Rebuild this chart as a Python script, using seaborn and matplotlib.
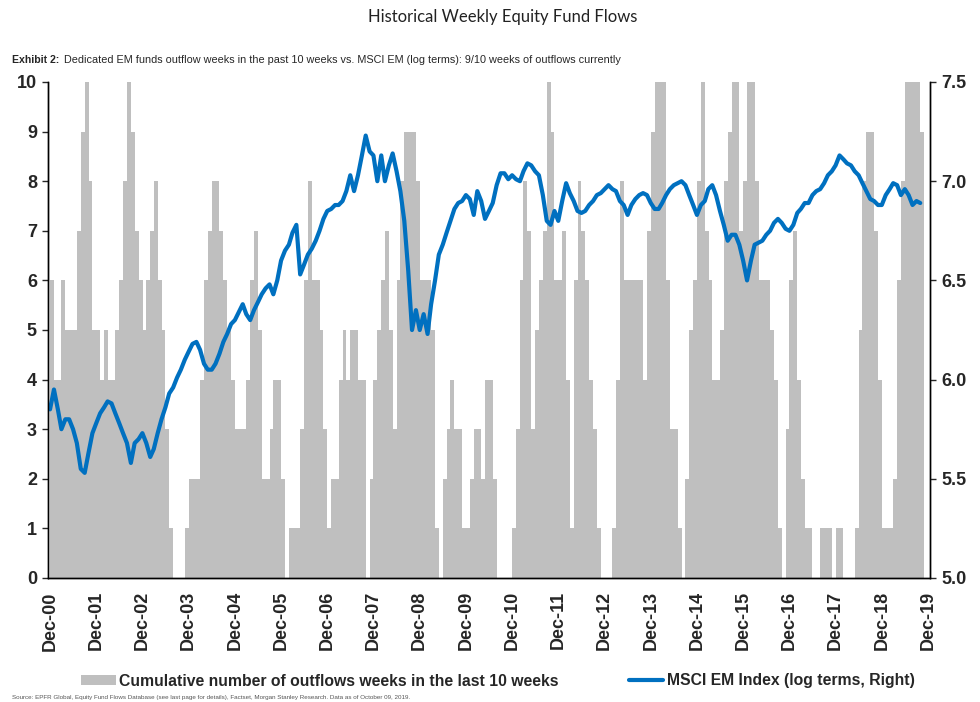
import pandas as pd
import seaborn as sns
import matplotlib.pyplot as plt
import matplotlib.dates as mdates
from matplotlib.patches import Patch
from matplotlib.lines import Line2D

first_month = "2000-12-01"

# cumulative number of outflow weeks in the last 10 weeks (read monthly, Dec-00 .. Oct-19)
outflow_weeks = [
    6, 4, 4, 6, 5, 5, 5, 7, 9, 10, 8, 5,
    5, 4, 5, 4, 4, 5, 6, 8, 10, 9, 7, 6,
    5, 6, 7, 8, 6, 5, 3, 1, 0, 0, 0, 1,
    2, 2, 2, 4, 6, 7, 8, 8, 7, 6, 5, 4,
    3, 3, 3, 4, 6, 7, 5, 2, 2, 3, 4, 4,
    2, 0, 1, 1, 1, 3, 6, 8, 6, 6, 5, 3,
    1, 2, 2, 4, 5, 4, 5, 5, 4, 4, 0, 2,
    4, 5, 6, 7, 5, 3, 6, 8, 9, 9, 9, 8,
    6, 6, 6, 5, 1, 0, 2, 3, 4, 3, 3, 1,
    1, 2, 3, 3, 2, 4, 4, 2, 0, 0, 0, 0,
    1, 3, 6, 8, 7, 3, 5, 6, 7, 10, 9, 6,
    6, 7, 4, 1, 6, 8, 7, 6, 4, 3, 1, 0,
    0, 0, 1, 4, 8, 6, 6, 6, 6, 6, 4, 7,
    9, 10, 10, 10, 6, 3, 3, 1, 0, 2, 5, 6,
    8, 10, 7, 6, 4, 4, 5, 8, 9, 10, 10, 7,
    8, 10, 10, 8, 6, 6, 6, 5, 4, 1, 0, 3,
    6, 7, 4, 2, 1, 1, 0, 0, 1, 1, 1, 0,
    1, 1, 0, 0, 0, 1, 5, 8, 9, 9, 7, 4,
    1, 1, 1, 2, 6, 8, 10, 10, 10, 10, 9,
]

# MSCI EM index, log terms (right axis)
msci_em_log = [
    5.85, 5.95, 5.85, 5.75, 5.80, 5.80, 5.75, 5.68, 5.55, 5.53, 5.63, 5.73,
    5.78, 5.83, 5.86, 5.89, 5.88, 5.83, 5.78, 5.73, 5.68, 5.58, 5.68, 5.70,
    5.73, 5.68, 5.61, 5.65, 5.73, 5.80, 5.86, 5.93, 5.96, 6.01, 6.05, 6.10,
    6.14, 6.18, 6.19, 6.15, 6.08, 6.05, 6.05, 6.08, 6.13, 6.19, 6.23, 6.28,
    6.30, 6.34, 6.38, 6.33, 6.30, 6.35, 6.39, 6.43, 6.46, 6.48, 6.43, 6.50,
    6.60, 6.65, 6.68, 6.74, 6.78, 6.53, 6.58, 6.63, 6.66, 6.70, 6.75, 6.81,
    6.85, 6.86, 6.88, 6.88, 6.90, 6.95, 7.03, 6.95, 7.03, 7.13, 7.23, 7.15,
    7.13, 7.00, 7.13, 7.00, 7.08, 7.14, 7.05, 6.95, 6.80, 6.55, 6.25, 6.35,
    6.25, 6.33, 6.23, 6.38, 6.50, 6.63, 6.68, 6.74, 6.80, 6.86, 6.89, 6.90,
    6.93, 6.91, 6.83, 6.95, 6.90, 6.81, 6.85, 6.89, 6.98, 7.04, 7.04, 7.01,
    7.03, 7.01, 7.00, 7.05, 7.09, 7.08, 7.05, 7.03, 6.93, 6.80, 6.78, 6.85,
    6.80, 6.90, 6.99, 6.94, 6.90, 6.85, 6.84, 6.85, 6.88, 6.90, 6.93, 6.94,
    6.96, 6.98, 6.96, 6.95, 6.90, 6.88, 6.83, 6.88, 6.91, 6.93, 6.94, 6.93,
    6.89, 6.86, 6.86, 6.89, 6.93, 6.96, 6.98, 6.99, 7.00, 6.98, 6.93, 6.88,
    6.83, 6.88, 6.90, 6.96, 6.98, 6.93, 6.85, 6.78, 6.70, 6.73, 6.73, 6.68,
    6.60, 6.50, 6.60, 6.68, 6.69, 6.70, 6.73, 6.75, 6.79, 6.81, 6.79, 6.76,
    6.75, 6.78, 6.84, 6.86, 6.89, 6.89, 6.93, 6.95, 6.96, 6.99, 7.03, 7.05,
    7.08, 7.13, 7.11, 7.09, 7.08, 7.05, 7.03, 6.99, 6.95, 6.91, 6.90, 6.88,
    6.88, 6.93, 6.96, 6.99, 6.98, 6.93, 6.96, 6.93, 6.88, 6.90, 6.89,
]

bar_label = "Cumulative number of outflows weeks in the last 10 weeks"
line_label = "MSCI EM Index (log terms, Right)"
gray = "#bfbfbf"
blue = "#0070c0"

sns.set_style("white")
plt.rcParams["font.family"] = ["Liberation Sans", "DejaVu Sans"]

months = pd.date_range(first_month, periods=len(outflow_weeks), freq="MS")
df = pd.DataFrame({"month": months, "outflows": outflow_weeks, "msci": msci_em_log})

fig = plt.figure(figsize=(9.8, 7.02), dpi=100)
ax = fig.add_axes([48 / 980, 1 - 578 / 702, 882 / 980, 496 / 702])

ax.bar(df["month"], df["outflows"], width=31, align="edge", color=gray, linewidth=0)
ax.set_ylim(0, 10)
ax.set_yticks(range(0, 11))
ax.set_xlim(pd.Timestamp("2000-11-15"), pd.Timestamp("2019-12-17"))
ax.set_xticks(pd.date_range("2000-12-01", "2019-12-01", freq="12MS"))
ax.xaxis.set_major_formatter(mdates.DateFormatter("%b-%y"))

ax2 = ax.twinx()
sns.lineplot(data=df, x="month", y="msci", ax=ax2, color=blue, linewidth=3)
ax2.set_ylim(5.0, 7.5)
ax2.set_yticks([5.0, 5.5, 6.0, 6.5, 7.0, 7.5])
ax2.set_yticklabels(["5.0", "5.5", "6.0", "6.5", "7.0", "7.5"])
ax2.set_xlabel("")
ax2.set_ylabel("")
ax.set_xlabel("")

for a in (ax, ax2):
    a.spines["top"].set_visible(False)
    for s in ("left", "right", "bottom"):
        a.spines[s].set_color("black")
        a.spines[s].set_linewidth(1)

ax.tick_params(axis="y", left=True, direction="out", length=4, width=1, labelsize=13, pad=4)
ax.tick_params(axis="x", bottom=False, labelsize=13, pad=6)
ax2.tick_params(axis="y", right=True, direction="out", length=4, width=1, labelsize=13, pad=4)
for lbl in ax.get_yticklabels() + ax2.get_yticklabels() + ax.get_xticklabels():
    lbl.set_fontweight("bold")
for lbl in ax.get_xticklabels():
    lbl.set_rotation(90)

fig.text(503 / 980, 1 - 17 / 702, "Historical Weekly Equity Fund Flows", ha="center", va="center",
         fontsize=12, family=["Lato", "DejaVu Sans"], color="#222222")
fig.text(12 / 980, 1 - 60 / 702, "Exhibit 2:", ha="left", va="center", fontsize=7.6, fontweight="bold")
fig.text(64 / 980, 1 - 60 / 702,
         "Dedicated EM funds outflow weeks in the past 10 weeks vs. MSCI EM (log terms): 9/10 weeks of outflows currently",
         ha="left", va="center", fontsize=7.8)

handles = [Patch(facecolor=gray, edgecolor="none"), Line2D([], [], color=blue, linewidth=3)]
fig.legend(handles, [bar_label, line_label], loc="center", bbox_to_anchor=(0.508, 1 - 681 / 702),
           ncol=2, frameon=False, prop={"weight": "bold", "size": 11.3},
           handlelength=2.2, handleheight=0.6, handletextpad=0.2, columnspacing=4.5)

fig.text(12 / 980, 1 - 697 / 702,
         "Source: EPFR Global, Equity Fund Flows Database (see last page for details), Factset, Morgan Stanley Research. Data as of October 09, 2019.",
         ha="left", va="center", fontsize=4.5, color="#555555")

fig.savefig("out.png", dpi=100)
